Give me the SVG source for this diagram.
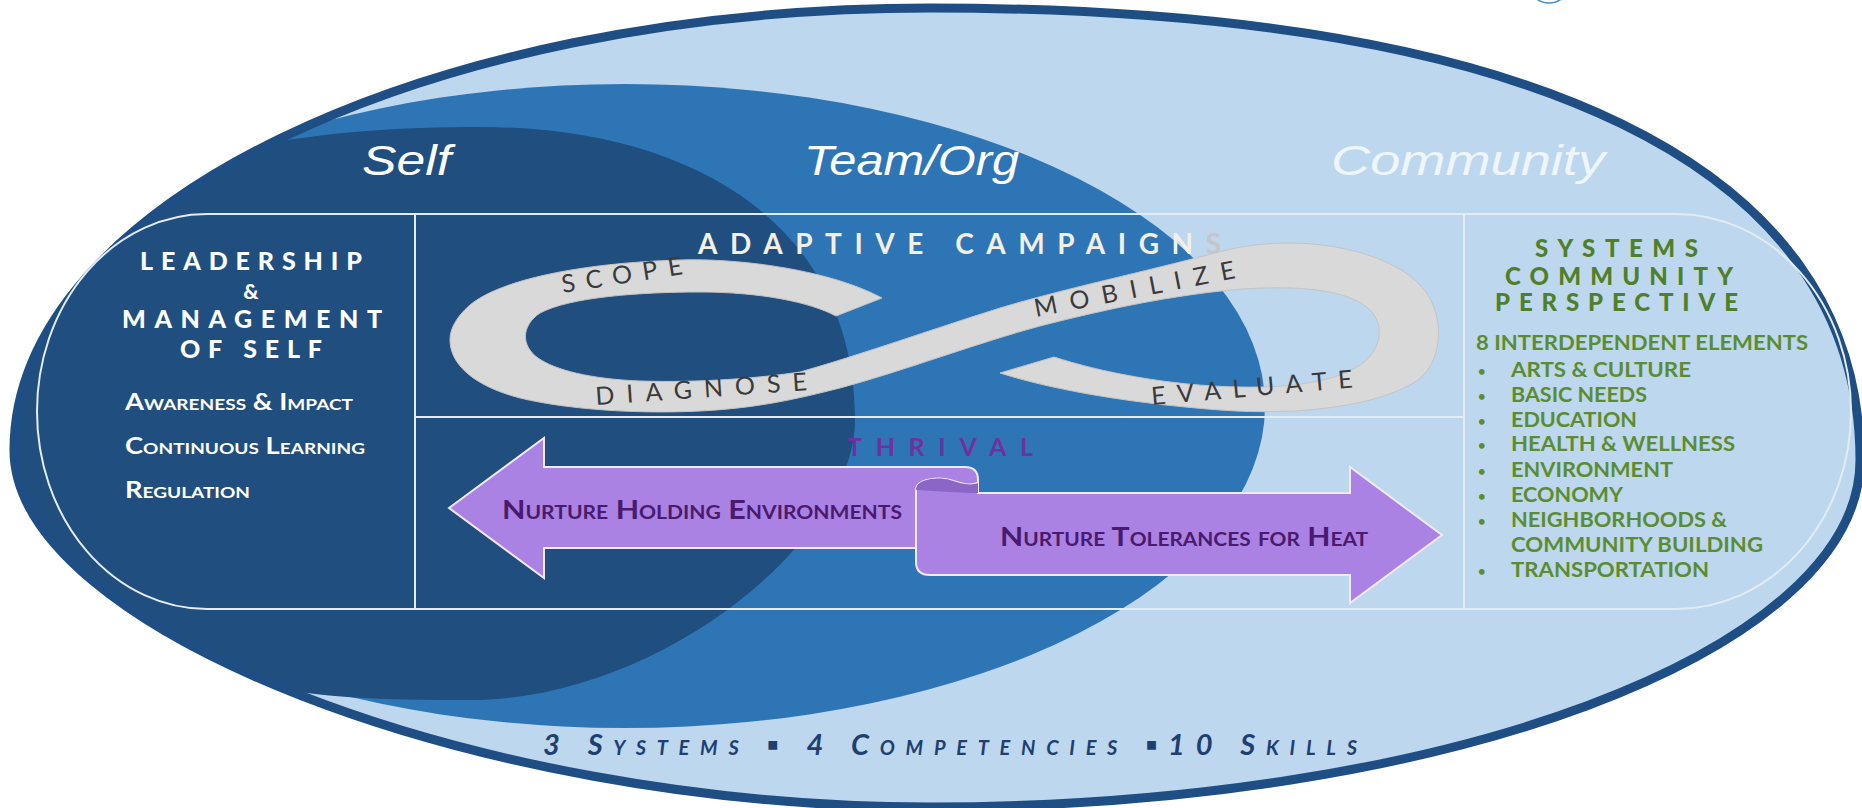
<svg xmlns="http://www.w3.org/2000/svg" width="1862" height="808" viewBox="0 0 1862 808">
<defs>
<style>
.lbl{font-family:"Liberation Sans",Arial,sans-serif;font-style:italic;font-size:42px;fill:#ffffff}
.wt{font-family:Lato,"Liberation Sans",sans-serif;font-weight:700;fill:#ffffff}
.hd{font-family:Lato,"Liberation Sans",sans-serif;font-weight:900;fill:#ffffff}
.rib{font-family:Lato,"Liberation Sans",sans-serif;font-size:25px;fill:#3a3a3a}
.grn{font-family:Lato,"Liberation Sans",sans-serif;font-weight:700;fill:#5b8d30}
.grt{font-family:Lato,"Liberation Sans",sans-serif;font-weight:900;font-size:24px;fill:#4f7f28}
.arr{font-family:Lato,"Liberation Sans",sans-serif;font-weight:700;font-size:26px;fill:#4a1a6e;font-variant:small-caps}
.frame{fill:none;stroke:#e3ebf4;stroke-width:2}
</style>
<path id="outerShape" d="M930,8 C1534,8 1860,166 1860,460 C1860,652 1444,807 930,807 C472,807 14,628 14,450 C14,206 424,8 930,8 Z"/>
<clipPath id="clipOuter"><use href="#outerShape"/></clipPath>
</defs>
<rect x="0" y="0" width="1862" height="808" fill="#ffffff"/>

<g id="background">
  <use href="#outerShape" fill="#bdd7ee"/>
  <g clip-path="url(#clipOuter)">
    <ellipse id="team-ellipse" cx="625" cy="406" rx="640" ry="322" fill="#2e75b6"/>
    <path id="self-ellipse" d="M480,127 C700,127 855,230 855,420 C855,540 660,700 470,700 C380,700 320,698 260,685 L-200,700 L-200,100 L200,160 C280,135 380,127 480,127 Z" fill="#1f4e7f"/>
  </g>
  <use href="#outerShape" fill="none" stroke="#1f4e84" stroke-width="9"/>
  <circle cx="1549" cy="-18" r="21" fill="none" stroke="#4a92c4" stroke-width="1.5"/>
</g>

<g id="frame">
  <path class="frame" d="M207,214 L1676,214 A175,197.5 0 0 1 1676,609 L207,609 A170,197.5 0 0 1 207,214 Z"/>
  <line class="frame" x1="415" y1="214" x2="415" y2="609"/>
  <line class="frame" x1="1464" y1="214" x2="1464" y2="609"/>
  <line class="frame" x1="415" y1="417" x2="1464" y2="417"/>
</g>

<g id="system-labels">
  <text class="lbl" x="362" y="175" textLength="89" lengthAdjust="spacingAndGlyphs">Self</text>
  <text class="lbl" x="804" y="175" textLength="215" lengthAdjust="spacingAndGlyphs">Team/Org</text>
  <text class="lbl" x="1331" y="175" textLength="274" lengthAdjust="spacingAndGlyphs" style="fill:#eef5fb">Community</text>
</g>

<g id="node-self">
  <text class="hd" x="140" y="270" font-size="25" textLength="222" lengthAdjust="spacing">LEADERSHIP</text>
  <text class="hd" x="251" y="299" font-size="21" text-anchor="middle">&amp;</text>
  <text class="hd" x="122" y="328" font-size="25" textLength="260" lengthAdjust="spacing">MANAGEMENT</text>
  <text class="hd" x="180" y="358" font-size="25" textLength="142" lengthAdjust="spacing">OF SELF</text>
  <text class="wt" x="125" y="410" font-size="23" font-variant="small-caps" textLength="228" lengthAdjust="spacingAndGlyphs">Awareness &amp; Impact</text>
  <text class="wt" x="125" y="454" font-size="23" font-variant="small-caps" textLength="240" lengthAdjust="spacingAndGlyphs">Continuous Learning</text>
  <text class="wt" x="125" y="498" font-size="23" font-variant="small-caps" textLength="125" lengthAdjust="spacingAndGlyphs">Regulation</text>
</g>

<g id="node-adaptive-campaigns">
  <text x="698" y="254" font-family="Lato,'Liberation Sans',sans-serif" font-weight="700" font-size="28" fill="#f3efe4" textLength="523" lengthAdjust="spacing">ADAPTIVE CAMPAIGN<tspan fill="#c4c6c8">S</tspan></text>
  <path id="infinity" fill="#d9d9d9" stroke="#c4c4c4" stroke-width="1" d="M882,298 C830,270 740,258 680,260 C580,263 500,280 470,305 C455,318 450,330 450,340 C450,362 470,385 520,398 C570,410 640,414 700,411 C760,408 800,398 840,388 C900,372 980,342 1040,326 C1110,308 1170,296 1230,290 C1300,284 1350,290 1370,310 C1385,325 1382,350 1360,365 C1335,382 1290,388 1240,387 C1170,386 1100,372 1054,357 L1000,373 C1060,392 1140,404 1220,410 C1300,416 1380,406 1418,380 C1445,360 1445,310 1420,285 C1395,258 1340,243 1290,243 C1250,243 1225,250 1200,257 C1130,275 1060,290 1000,308 C930,330 860,355 800,372 C760,378 700,383 640,381 C590,379 555,370 538,358 C520,345 522,325 540,313 C570,297 640,292 700,292 C760,292 810,302 836,316 Z"/>
  <text class="rib" transform="translate(563,293) rotate(-9)" textLength="122" lengthAdjust="spacing">SCOPE</text>
  <text class="rib" transform="translate(596,405) rotate(-4)" textLength="212" lengthAdjust="spacing">DIAGNOSE</text>
  <text class="rib" transform="translate(1036,317) rotate(-11)" textLength="204" lengthAdjust="spacing">MOBILIZE</text>
  <text class="rib" transform="translate(1152,405) rotate(-5)" textLength="202" lengthAdjust="spacing">EVALUATE</text>
</g>

<g id="node-thrival">
  <text x="847" y="456" font-family="Lato,'Liberation Sans',sans-serif" font-weight="700" font-size="25" fill="#7030a0" textLength="186" lengthAdjust="spacing">THRIVAL</text>
  <path id="arrow-left" d="M449,508 L544,438 L544,467 L965,467 Q978,467 978,480 L978,495 L916,495 L916,548 L544,548 L544,578 Z" fill="#a982e4" stroke="#f1e8fc" stroke-width="2"/>
  <path id="arrow-right" d="M930,575 Q916,575 916,562 L916,490 C916,478 940,477 950,480 C962,484 970,486 978,483 L978,493 L1350,493 L1350,467 L1442,535 L1350,603 L1350,575 Z" fill="#a982e4" stroke="#f1e8fc" stroke-width="2"/>
  <path d="M916,490 C916,478 940,477 950,480 C962,484 970,486 978,483 L978,493 C960,493 940,491 916,490 Z" fill="#8c66c6"/>
  <text class="arr" x="502" y="519" textLength="400" lengthAdjust="spacingAndGlyphs">Nurture Holding Environments</text>
  <text class="arr" x="1000" y="546" textLength="368" lengthAdjust="spacingAndGlyphs">Nurture Tolerances for Heat</text>
</g>

<g id="node-community">
  <text class="grt" x="1535" y="257" textLength="163" lengthAdjust="spacing">SYSTEMS</text>
  <text class="grt" x="1505" y="285" textLength="228" lengthAdjust="spacing">COMMUNITY</text>
  <text class="grt" x="1495" y="311" textLength="243" lengthAdjust="spacing">PERSPECTIVE</text>
  <text class="grn" x="1476" y="350" font-size="20" textLength="332" lengthAdjust="spacingAndGlyphs">8 INTERDEPENDENT ELEMENTS</text>
  <g class="grn" font-size="20">
    <text x="1478" y="376" font-size="13">•</text><text x="1511" y="377" textLength="180" lengthAdjust="spacingAndGlyphs">ARTS &amp; CULTURE</text>
    <text x="1478" y="401" font-size="13">•</text><text x="1511" y="402" textLength="136" lengthAdjust="spacingAndGlyphs">BASIC NEEDS</text>
    <text x="1478" y="426" font-size="13">•</text><text x="1511" y="427" textLength="126" lengthAdjust="spacingAndGlyphs">EDUCATION</text>
    <text x="1478" y="450" font-size="13">•</text><text x="1511" y="451" textLength="224" lengthAdjust="spacingAndGlyphs">HEALTH &amp; WELLNESS</text>
    <text x="1478" y="476" font-size="13">•</text><text x="1511" y="477" textLength="162" lengthAdjust="spacingAndGlyphs">ENVIRONMENT</text>
    <text x="1478" y="501" font-size="13">•</text><text x="1511" y="502" textLength="112" lengthAdjust="spacingAndGlyphs">ECONOMY</text>
    <text x="1478" y="526" font-size="13">•</text><text x="1511" y="527" textLength="216" lengthAdjust="spacingAndGlyphs">NEIGHBORHOODS &amp;</text>
    <text x="1511" y="552" textLength="252" lengthAdjust="spacingAndGlyphs">COMMUNITY BUILDING</text>
    <text x="1478" y="576" font-size="13">•</text><text x="1511" y="577" textLength="198" lengthAdjust="spacingAndGlyphs">TRANSPORTATION</text>
  </g>
</g>

<g id="node-summary">
  <text x="543" y="755" font-family="Lato,'Liberation Sans','DejaVu Sans',sans-serif" font-style="italic" font-weight="700" font-size="29" font-variant="small-caps" fill="#1f3f70" textLength="814" lengthAdjust="spacing">3 Systems ▪ 4 Competencies ▪10 Skills</text>
</g>

<g id="connectors"></g>
</svg>
